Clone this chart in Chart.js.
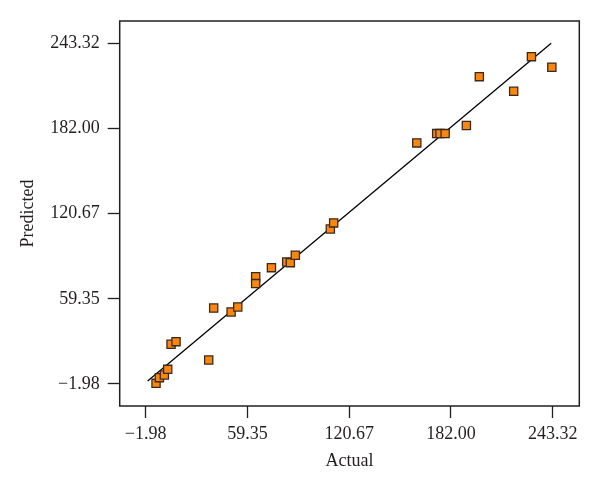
<!DOCTYPE html>
<html>
<head>
<meta charset="utf-8">
<script src="https://cdn.jsdelivr.net/npm/chart.js@4/dist/chart.umd.min.js"></script>
<style>
  html, body { margin: 0; padding: 0; background: #fff; }
  #wrap { width: 600px; height: 494px; }
</style>
</head>
<body>
<div id="wrap"><canvas id="chart"></canvas></div>
<script>
// Actual vs predicted
const actual = [4.25, 6.26, 9.27, 11.28, 13.29, 16.3, 36.0, 39.0, 49.5, 53.5, 64.3, 64.3, 73.8,
  83.0, 85.2, 88.2, 109.3, 111.3, 161.4, 173.4, 175.4, 178.5, 191.3, 199.1, 219.8, 230.5, 242.8];
const predicted = [-1.5, 2.58, 4.5, 8.58, 26.6, 28.5, 15.3, 52.7, 49.9, 53.5, 75.3, 70.3, 81.8,
  85.9, 85.4, 90.7, 109.6, 114.0, 171.6, 178.3, 178.3, 178.3, 184.1, 219.3, 208.8, 233.7, 226.1];

// fitted reference line (two ends)
const lineX = [-0.8, 242.4];
const lineY = [0.2, 243.3];

const tickValues = [-1.98, 59.35, 120.67, 182.00, 243.32];
const tickLabels = ['\u22121.98', '59.35', '120.67', '182.00', '243.32'];

const FONT = "'Liberation Serif', 'DejaVu Serif', serif";
const INK = '#231f20';

// draws the box round the plot area
const framePlugin = {
  id: 'frame',
  afterDraw(chart) {
    const a = chart.chartArea;
    const ctx = chart.ctx;
    ctx.save();
    ctx.strokeStyle = INK;
    ctx.lineWidth = 1.5;
    ctx.strokeRect(a.left, a.top, a.right - a.left, a.bottom - a.top);
    ctx.restore();
  }
};

function setTicks(scale) {
  scale.ticks = tickValues.map(v => ({ value: v }));
}

const axisCommon = {
  type: 'linear',
  afterBuildTicks: setTicks,
  grid: { drawOnChartArea: false, drawTicks: true, tickLength: 12, tickColor: INK, tickWidth: 1.3 },
  border: { display: false },
  ticks: {
    color: INK,
    font: { family: FONT, size: 18 },
    callback: (v, i) => tickLabels[i]
  }
};

new Chart(document.getElementById('chart'), {
  type: 'scatter',
  data: {
    datasets: [
      {
        label: 'Points',
        data: actual.map((x, i) => ({ x, y: predicted[i] })),
        pointStyle: 'rect',
        pointRadius: 5.8,
        backgroundColor: '#f8860f',
        borderColor: '#3b2a1c',
        borderWidth: 1.3
      },
      {
        label: 'Fit',
        data: lineX.map((x, i) => ({ x, y: lineY[i] })),
        showLine: true,
        pointRadius: 0,
        borderColor: '#000',
        borderWidth: 1.3
      }
    ]
  },
  options: {
    responsive: true,
    maintainAspectRatio: false,
    animation: false,
    layout: { padding: { top: 21, right: 20.7, left: 0, bottom: 0 } },
    plugins: { legend: { display: false }, tooltip: { enabled: false } },
    scales: {
      x: {
        ...axisCommon,
        min: -17.65,
        max: 259.35,
        afterFit: (s) => { s.height = 88; },
        ticks: { ...axisCommon.ticks, padding: 5, maxRotation: 0 },
        title: { display: true, text: 'Actual', color: INK, font: { family: FONT, size: 18 }, padding: { top: 0, bottom: 21.5 } }
      },
      y: {
        ...axisCommon,
        min: -17.82,
        max: 259.37,
        afterFit: (s) => { s.width = 119.7; },
        ticks: { ...axisCommon.ticks, padding: 8 },
        title: { display: true, text: 'Predicted', color: INK, font: { family: FONT, size: 18 }, padding: { top: 17, bottom: 0 } }
      }
    }
  },
  plugins: [framePlugin]
});
</script>
</body>
</html>
